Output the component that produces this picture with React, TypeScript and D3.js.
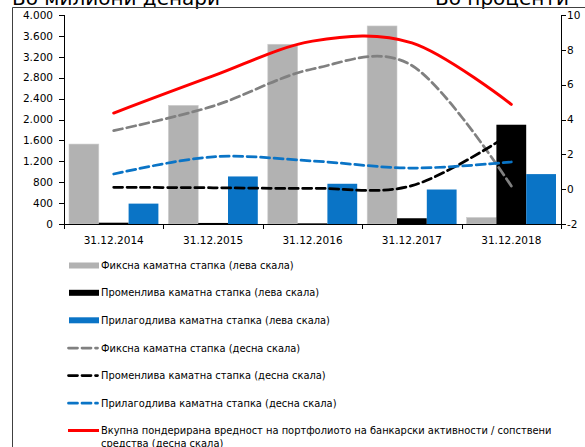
import React from "react";
import * as d3 from "d3";

const categories = ["31.12.2014", "31.12.2015", "31.12.2016", "31.12.2017", "31.12.2018"];

// bars, left scale (millions of denars)
const fixedBar = [1530, 2270, 3440, 3790, 125];
const variableBar = [25, 20, 12, 110, 1900];
const adjustableBar = [390, 910, 770, 660, 955];

// lines, right scale (percent)
const fixedRate = [3.36, 4.77, 6.9, 7.1, 0.18];
const variableRate = [0.11, 0.08, 0.05, 0.2, 3.2];
const adjustableRate = [0.87, 1.86, 1.62, 1.21, 1.56];
const totalRate = [4.37, 6.5, 8.5, 8.4, 4.87];

const leftTicks = [0, 400, 800, 1200, 1600, 2000, 2400, 2800, 3200, 3600, 4000];
const rightTicks = [-2, 0, 2, 4, 6, 8, 10];

const titleLeft = "Во милиони денари";
const titleRight = "Во проценти";

const legendLabels = [
  "Фиксна каматна стапка (лева скала)",
  "Променлива каматна стапка (лева скала)",
  "Прилагодлива каматна стапка (лева скала)",
  "Фиксна каматна стапка (десна скала)",
  "Променлива каматна стапка (десна скала)",
  "Прилагодлива каматна стапка (десна скала)",
  "Вкупна пондерирана вредност на портфолиото на банкарски активности / сопствени",
];
const legendLastLine2 = "средства (десна скала)";

const FONT = "'DejaVu Sans', Verdana, sans-serif";
const GRAY = "#b2b2b2";
const BLACK = "#000000";
const BLUE = "#0a74c6";
const GRAYL = "#808080";
const RED = "#ff0000";

export default function App() {
  const W = 585;
  const H = 447;
  const left = 64;
  const right = 561;
  const top = 15;
  const bottom = 224;

  const x0 = d3.scaleBand<string>().domain(categories).range([left, right]).paddingInner(0).paddingOuter(0);
  const x1 = d3
    .scaleBand<string>()
    .domain(["f", "v", "a"])
    .range([0, x0.bandwidth()])
    .paddingInner(0)
    .paddingOuter(0.168);
  const yL = d3.scaleLinear().domain([0, 4000]).range([bottom, top]);
  const yR = d3.scaleLinear().domain([-2, 10]).range([bottom, top]);

  const fmt = d3.formatLocale({ decimal: ",", thousands: ".", grouping: [3], currency: ["", ""] }).format(",");

  const cx = (i: number) => (x0(categories[i]) as number) + x0.bandwidth() / 2;
  const lineGen = d3
    .line<number>()
    .x((_, i) => cx(i))
    .y((d) => yR(d))
    .curve(d3.curveCardinal.tension(0));

  const barSeries = [
    { key: "f", values: fixedBar, color: GRAY },
    { key: "v", values: variableBar, color: BLACK },
    { key: "a", values: adjustableBar, color: BLUE },
  ];

  const lineSeries = [
    { values: fixedRate, color: GRAYL, dash: "9,4.5" },
    { values: variableRate, color: BLACK, dash: "9,4.5" },
    { values: adjustableRate, color: BLUE, dash: "9,4.5" },
    { values: totalRate, color: RED, dash: null as string | null },
  ];

  const legendRows = [265.5, 292.8, 320.3, 348, 375.5, 403.2, 430.5];
  const legendSwatches = [
    { type: "rect", color: GRAY },
    { type: "rect", color: BLACK },
    { type: "rect", color: BLUE },
    { type: "dash", color: GRAYL },
    { type: "dash", color: BLACK },
    { type: "dash", color: BLUE },
    { type: "line", color: RED },
  ];

  return (
    <div style={{ position: "absolute", left: 0, top: 0 }}>
      <svg width={W} height={H} style={{ display: "block", background: "#fff" }} fontFamily={FONT}>
        <rect x={0} y={0} width={W} height={H} fill="#fff" />
        {/* titles (cut at top, as in the reference) */}
        <text x={12} y={4.5} fontSize={20} fill="#000">
          {titleLeft}
        </text>
        <text x={569} y={4.5} fontSize={20} fill="#000" textAnchor="end">
          {titleRight}
        </text>
        {/* frame */}
        <path d={`M12.5,${H} V7.5 H${W}`} fill="none" stroke="#404040" strokeWidth={1} />

        {/* bars */}
        {barSeries.map((s) =>
          s.values.map((v, i) => (
            <rect
              key={s.key + i}
              x={(x0(categories[i]) as number) + (x1(s.key) as number)}
              y={yL(v)}
              width={x1.bandwidth()}
              height={bottom - yL(v)}
              fill={s.color}
              stroke={s.key === "f" ? "#cccccc" : "none"}
              strokeWidth={0.6}
            />
          ))
        )}

        {/* lines */}
        {lineSeries.map((s, k) => (
          <path
            key={k}
            d={lineGen(s.values) as string}
            fill="none"
            stroke={s.color}
            strokeWidth={s.dash ? 2.75 : 3}
            strokeDasharray={s.dash ?? undefined}
            strokeLinecap="round"
          />
        ))}

        {/* left axis */}
        <line x1={left + 0.5} x2={left + 0.5} y1={top} y2={bottom} stroke="#000" strokeWidth={1} />
        {leftTicks.map((t) => (
          <g key={"l" + t}>
            <line x1={left - 5} x2={left + 0.5} y1={Math.round(yL(t)) + 0.5} y2={Math.round(yL(t)) + 0.5} stroke="#000" />
            <text x={53} y={yL(t)} dy="0.36em" fontSize={10.5} textAnchor="end" fill="#000">
              {fmt(t)}
            </text>
          </g>
        ))}

        {/* right axis */}
        <line x1={right + 0.5} x2={right + 0.5} y1={top} y2={bottom} stroke="#000" strokeWidth={1} />
        {rightTicks.map((t) => (
          <g key={"r" + t}>
            <line x1={right + 0.5} x2={right + 5} y1={Math.round(yR(t)) + 0.5} y2={Math.round(yR(t)) + 0.5} stroke="#000" />
            <text x={567} y={yR(t)} dy="0.36em" fontSize={10.5} fill="#000">
              {t}
            </text>
          </g>
        ))}

        {/* category axis */}
        <line x1={left} x2={right + 0.5} y1={bottom + 0.5} y2={bottom + 0.5} stroke="#000" />
        {categories.map((c, i) => (
          <g key={c}>
            <line
              x1={Math.round(x0(c) as number) + 0.5}
              x2={Math.round(x0(c) as number) + 0.5}
              y1={bottom}
              y2={bottom + 5}
              stroke="#000"
            />
            <text x={cx(i)} y={244} fontSize={10.5} textAnchor="middle" fill="#000">
              {c}
            </text>
          </g>
        ))}
        <line x1={right + 0.5} x2={right + 0.5} y1={bottom} y2={bottom + 5} stroke="#000" />

        {/* legend */}
        {legendSwatches.map((s, i) => {
          const y = legendRows[i];
          return (
            <g key={"lg" + i}>
              {s.type === "rect" && <rect x={69} y={y - 3} width={30} height={6} fill={s.color} />}
              {s.type === "dash" && (
                <line
                  x1={68.5}
                  x2={97.5}
                  y1={y}
                  y2={y}
                  stroke={s.color}
                  strokeWidth={2.75}
                  strokeDasharray="9,4.5"
                  strokeLinecap="round"
                />
              )}
              {s.type === "line" && <line x1={68} x2={99} y1={y} y2={y} stroke={s.color} strokeWidth={3} />}
              <text x={101} y={y} dy="0.36em" fontSize={9.9} fill="#000">
                {legendLabels[i]}
              </text>
            </g>
          );
        })}
        <text x={101} y={legendRows[6] + 13} dy="0.36em" fontSize={9.9} fill="#000">
          {legendLastLine2}
        </text>
      </svg>
    </div>
  );
}
